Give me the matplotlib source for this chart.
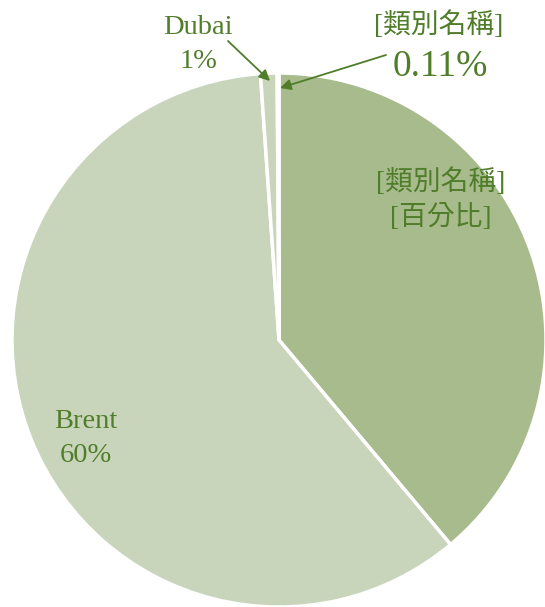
import matplotlib.pyplot as plt

# slice data (clockwise from 12 o'clock)
categories = ['[類別名稱]', 'Brent', 'Dubai', '[類別名稱]']
values = [38.89, 60.0, 1.0, 0.11]
colors = ['#a8bb8c', '#c9d5bb', '#c9d5bb', '#e4ebdc']
label_lines = ['[百分比]', '60%', '1%', '0.11%']

text_color = '#507d2a'
fonts = ['Liberation Serif', 'Noto Sans CJK TC', 'DejaVu Sans']

W, H = 545, 607
fig = plt.figure(figsize=(W / 100, H / 100), dpi=100)
ax = fig.add_axes([0, 0, 1, 1])

cx, cy, r = 279, H - 340, 267
ax.pie(values, colors=colors, startangle=90, counterclock=False,
       center=(cx, cy), radius=r,
       wedgeprops=dict(edgecolor='white', linewidth=2.5))
ax.set_xlim(0, W)
ax.set_ylim(0, H)
ax.set_aspect('equal')
ax.axis('off')

def px(x, y):
    return x, H - y

# labels inside the pie
ax.text(*px(441, 182), categories[0], ha='center', va='center',
        fontsize=20, color=text_color, family=fonts)
ax.text(*px(441, 218), label_lines[0], ha='center', va='center',
        fontsize=20, color=text_color, family=fonts)
ax.text(*px(86, 422), categories[1], ha='center', va='center',
        fontsize=20.5, color=text_color, family=fonts)
ax.text(*px(86, 455), label_lines[1], ha='center', va='center',
        fontsize=20.5, color=text_color, family=fonts)

# outside labels with leader arrows
ax.text(*px(198, 28), categories[2], ha='center', va='center',
        fontsize=20.5, color=text_color, family=fonts)
ax.text(*px(198, 61), label_lines[2], ha='center', va='center',
        fontsize=20.5, color=text_color, family=fonts)
ax.annotate('', xy=px(270, 81), xytext=px(228, 41),
            arrowprops=dict(arrowstyle='-|>', color=text_color, lw=1.3,
                            mutation_scale=16, shrinkA=0, shrinkB=0))

ax.text(*px(439, 25), categories[3], ha='center', va='center',
        fontsize=20, color=text_color, family=fonts)
ax.text(*px(440, 67), label_lines[3], ha='center', va='center',
        fontsize=27, color=text_color, family=fonts)
ax.annotate('', xy=px(280, 88), xytext=px(386, 55),
            arrowprops=dict(arrowstyle='-|>', color=text_color, lw=1.3,
                            mutation_scale=16, shrinkA=0, shrinkB=0))

fig.savefig('out.png', dpi=100)
